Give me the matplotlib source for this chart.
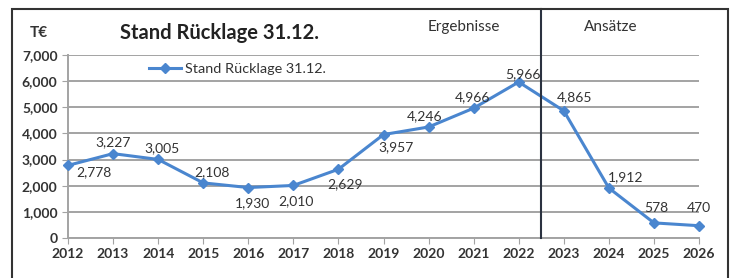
import matplotlib
matplotlib.use("Agg")
import matplotlib.pyplot as plt
from matplotlib.patches import Rectangle

plt.rcParams["font.family"] = ["Lato", "DejaVu Sans"]

YEARS = list(range(2012, 2027))
VALUES = [2778, 3227, 3005, 2108, 1930, 2010, 2629, 3957, 4246, 4966, 5966, 4865, 1912, 578, 470]
LABEL_OFFSETS = [(19, -5), (0, 8), (3, 8), (6, 8), (3, -11), (2, -11), (5, -11), (9, -9),
                 (-3, 8), (-1, 8), (3, 6), (8, 10), (12, 8), (2, 11), (0, 13)]

BLUE = "#4a86cf"
GRID = "#a3a3a3"
TEXT = "#333333"

fig = plt.figure(figsize=(7.3, 2.78), dpi=100)
ax = fig.add_axes([68 / 730, 1 - 238 / 278, (699 - 68) / 730, (238 - 55) / 278])

ax.plot(YEARS, VALUES, color=BLUE, linewidth=2.2, marker="D", markersize=5,
        label="Stand Rücklage 31.12.", clip_on=False, zorder=3)
for x, v, (dx, dy) in zip(YEARS, VALUES, LABEL_OFFSETS):
    ax.annotate(f"{v:,}", (x, v), xytext=(dx, dy), textcoords="offset points",
                ha="center", va="center", fontsize=10, color=TEXT)

ax.set_xlim(2012, 2026)
ax.set_ylim(0, 7000)
ax.set_yticks(range(0, 7001, 1000))
ax.set_yticklabels([f"{v:,}" for v in range(0, 7001, 1000)])
ax.set_xticks(YEARS)
ax.yaxis.grid(True, color=GRID, linewidth=1.4)
ax.set_axisbelow(True)
for s in ["top", "right"]:
    ax.spines[s].set_visible(False)
for s in ["left", "bottom"]:
    ax.spines[s].set_color(GRID)
    ax.spines[s].set_linewidth(1.4)
ax.tick_params(colors=GRID, labelcolor=TEXT, labelsize=10, length=4)
for lbl in ax.get_xticklabels() + ax.get_yticklabels():
    lbl.set_fontweight("bold")

ax.axvline(2022.5, ymin=0, ymax=(238 - 9) / (238 - 55), color="#2b3240",
           linewidth=1.5, clip_on=False, zorder=4)

ax.legend(loc="center left", bbox_to_anchor=(136 / 730, 1 - 69 / 278),
          bbox_transform=fig.transFigure, frameon=False, fontsize=10.4,
          handlelength=2.2, handletextpad=0.3, labelcolor=TEXT)

fig.text(39 / 730, 1 - 33 / 278, "T€", ha="center", va="center", fontsize=11,
         fontweight="bold", color=TEXT)
fig.text(219 / 730, 1 - 33 / 278, "Stand Rücklage 31.12.", ha="center", va="center",
         fontsize=14.5, fontweight="bold", color="#222222")
fig.text(464 / 730, 1 - 27 / 278, "Ergebnisse", ha="center", va="center",
         fontsize=11, color=TEXT)
fig.text(611 / 730, 1 - 27 / 278, "Ansätze", ha="center", va="center",
         fontsize=11, color=TEXT)

fig.patches.append(Rectangle((12 / 730, -0.05), (728 - 12) / 730, 1.05 - 9 / 278,
                             transform=fig.transFigure, fill=False,
                             edgecolor="#333333", linewidth=1.5))

fig.savefig("out.png", dpi=100)
